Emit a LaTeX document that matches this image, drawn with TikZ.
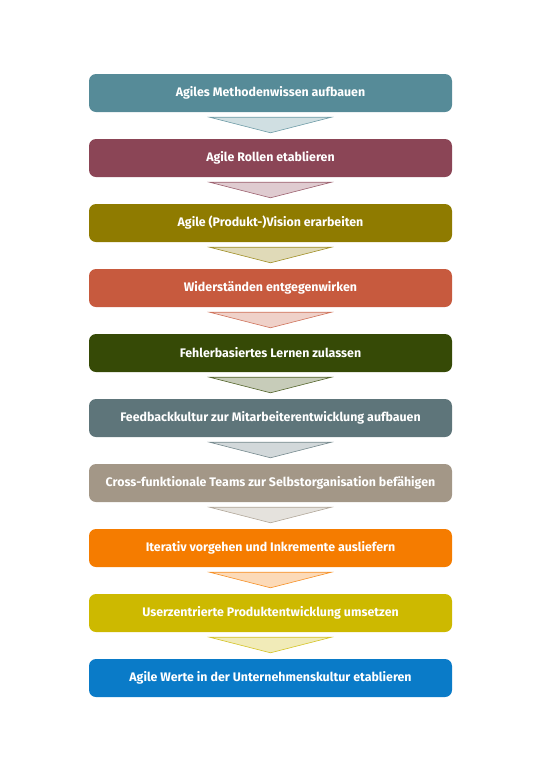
\documentclass[tikz,border=0pt]{standalone}
\usepackage{fontspec}
\setmainfont{Fira Sans}
\usepackage{tikz}
\usetikzlibrary{calc, positioning, backgrounds}

\definecolor{cTeal}{RGB}{86,139,152}
\definecolor{cWine}{RGB}{139,69,86}
\definecolor{cOlive}{RGB}{143,123,0}
\definecolor{cBrick}{RGB}{199,90,62}
\definecolor{cForest}{RGB}{54,74,6}
\definecolor{cSlate}{RGB}{94,117,122}
\definecolor{cTaupe}{RGB}{163,151,135}
\definecolor{cOrange}{RGB}{245,124,0}
\definecolor{cMustard}{RGB}{205,185,0}
\definecolor{cBlue}{RGB}{10,123,200}

\begin{document}
\begin{tikzpicture}[x=1pt,y=1pt,node distance=65pt,
                    step box/.style={rounded corners=7pt,fill=#1,text=white,
                      minimum width=363pt,minimum height=38pt,inner sep=0pt,
                      font=\fontsize{12.4}{14}\selectfont\bfseries},
                    down tri/.style={fill=#1!28,draw=#1!85,line width=0.6pt}]

  \useasboundingbox (0,0) rectangle (540,-764);

  \node[step box=cTeal] (1) at (270.5,-93) {Agiles Methodenwissen aufbauen};
  \node[step box=cWine] (2) [below of=1] {Agile Rollen etablieren};
  \node[step box=cOlive] (3) [below of=2] {Agile (Produkt-)Vision erarbeiten};
  \node[step box=cBrick] (4) [below of=3] {Widerständen entgegenwirken};
  \node[step box=cForest] (5) [below of=4] {Fehlerbasiertes Lernen zulassen};
  \node[step box=cSlate] (6) [below of=5] {Feedbackkultur zur Mitarbeiterentwicklung aufbauen};
  \node[step box=cTaupe] (7) [below of=6] {Cross-funktionale Teams zur Selbstorganisation befähigen};
  \node[step box=cOrange] (8) [below of=7] {Iterativ vorgehen und Inkremente ausliefern};
  \node[step box=cMustard] (9) [below of=8] {Userzentrierte Produktentwicklung umsetzen};
  \node[step box=cBlue] (10) [below of=9] {Agile Werte in der Unternehmenskultur etablieren};

  % arrows between the steps
  \foreach \a/\b/\c in {1/2/cTeal,2/3/cWine,3/4/cOlive,4/5/cBrick,5/6/cForest,
                        6/7/cSlate,7/8/cTaupe,8/9/cOrange,9/10/cMustard}
    \draw[down tri=\c] ($(\a.south)+(-61,-5)$) -- ($(\a.south)+(61,-5)$)
      -- ($(\b.north)+(0,6)$) -- cycle;

\end{tikzpicture}
\end{document}
